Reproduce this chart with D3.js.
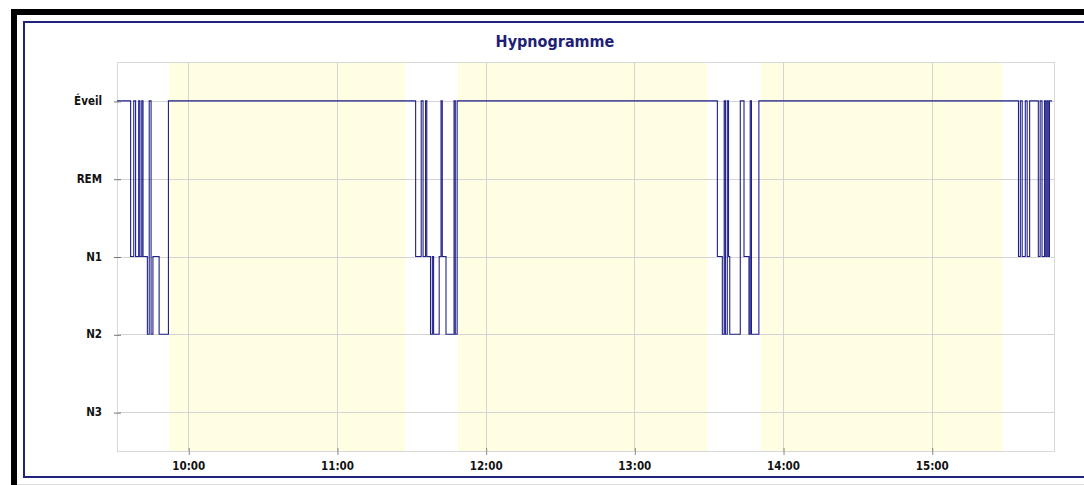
<!DOCTYPE html>
<html>
<head>
<meta charset="utf-8">
<script src="https://cdn.jsdelivr.net/npm/d3@7"></script>
<style>
  html, body { margin: 0; padding: 0; background: #fff; }
  svg { display: block; }
  text { font-family: "DejaVu Sans Condensed", "DejaVu Sans", sans-serif; font-stretch: condensed; font-weight: bold; }
</style>
</head>
<body>
<svg id="chart" width="1084" height="485"></svg>
<script>
// Sleep stages, top to bottom
const stages = ["Éveil", "REM", "N1", "N2", "N3"];

// Stage change points: time of change and stage entered
const changeTimes = [
  "09:31:15", "09:36:45", "09:38:00", "09:38:45", "09:40:00", "09:40:30", "09:41:15", "09:41:45",
  "09:43:30", "09:44:15", "09:45:00", "09:45:45", "09:48:15", "09:52:00",
  "11:31:45", "11:34:00", "11:34:45", "11:35:45", "11:36:15", "11:37:45", "11:38:30", "11:39:00",
  "11:41:15", "11:42:00", "11:42:30", "11:44:00", "11:47:15", "11:47:45", "11:48:30",
  "13:33:30", "13:35:30", "13:36:15", "13:36:45", "13:37:30", "13:38:00", "13:38:30", "13:42:45",
  "13:44:15", "13:46:15", "13:46:45", "13:47:15", "13:50:15",
  "15:35:00", "15:35:45", "15:36:30", "15:37:45", "15:38:30", "15:39:30", "15:43:00", "15:43:45",
  "15:44:30", "15:45:30", "15:46:00", "15:46:30", "15:47:00", "15:47:30", "15:48:30"
];
const changeStages = [
  "Éveil", "N1", "Éveil", "N1", "Éveil", "N1", "Éveil", "N1",
  "N2", "Éveil", "N2", "N1", "N2", "Éveil",
  "N1", "Éveil", "N1", "Éveil", "N1", "N2", "N1", "N2",
  "N1", "Éveil", "N1", "N2", "Éveil", "N2", "Éveil",
  "N1", "N2", "Éveil", "N2", "Éveil", "N1", "N2", "Éveil",
  "N1", "N2", "Éveil", "N2", "Éveil",
  "N1", "Éveil", "N1", "Éveil", "N1", "Éveil", "N1", "Éveil",
  "N1", "Éveil", "N1", "Éveil", "N1", "Éveil", "Éveil"
];

// Shaded periods
const periodStarts = ["09:52:15", "11:48:45", "13:51:00"];
const periodEnds   = ["11:27:30", "13:29:30", "15:28:30"];

// Axis range and hour ticks
const axisStart = "09:31:15";
const axisEnd   = "15:49:20";
const hourTicks = ["10:00", "11:00", "12:00", "13:00", "14:00", "15:00"];

const title = "Hypnogramme";

const parseTime = s => {
  const p = s.split(":").map(Number);
  return new Date(2020, 0, 1, p[0], p[1], p[2] || 0);
};

const svg = d3.select("#chart");

// Outer frames
svg.append("rect").attr("x", 14).attr("y", 12).attr("width", 1200).attr("height", 600)
  .attr("fill", "none").attr("stroke", "#000").attr("stroke-width", 6);
svg.append("rect").attr("x", 24).attr("y", 22).attr("width", 1200).attr("height", 455)
  .attr("fill", "none").attr("stroke", "#22227a").attr("stroke-width", 2);
svg.append("line").attr("x1", 17).attr("x2", 1084).attr("y1", 484.5).attr("y2", 484.5)
  .attr("stroke", "#ddd");

const plot = { left: 117, top: 62, right: 1054, bottom: 451 };

const x = d3.scaleTime()
  .domain([parseTime(axisStart), parseTime(axisEnd)])
  .range([plot.left, plot.right]);

const y = d3.scalePoint()
  .domain(stages)
  .range([plot.top, plot.bottom])
  .padding(0.5);

// Title
svg.append("text")
  .attr("x", 555).attr("y", 47)
  .attr("text-anchor", "middle")
  .attr("fill", "#1f1f78")
  .attr("font-size", 16)
  .text(title);

const g = svg.append("g");

// Shaded periods
g.selectAll("rect.period")
  .data(periodStarts.map((s, i) => [parseTime(s), parseTime(periodEnds[i])]))
  .join("rect")
  .attr("class", "period")
  .attr("x", d => x(d[0]))
  .attr("width", d => x(d[1]) - x(d[0]))
  .attr("y", plot.top)
  .attr("height", plot.bottom - plot.top)
  .attr("fill", "#fffde2");

// Grid lines
const hourDates = hourTicks.map(h => parseTime(h + ":00"));
g.selectAll("line.vgrid")
  .data(hourDates)
  .join("line")
  .attr("x1", d => Math.round(x(d)) + 0.5).attr("x2", d => Math.round(x(d)) + 0.5)
  .attr("y1", plot.top).attr("y2", plot.bottom)
  .attr("stroke", "#d4d4d4");
g.selectAll("line.hgrid")
  .data(stages)
  .join("line")
  .attr("x1", plot.left).attr("x2", plot.right)
  .attr("y1", d => Math.round(y(d)) + 0.5).attr("y2", d => Math.round(y(d)) + 0.5)
  .attr("stroke", "#d4d4d4");

// Plot border
g.append("rect")
  .attr("x", plot.left + 0.5).attr("y", plot.top + 0.5)
  .attr("width", plot.right - plot.left).attr("height", plot.bottom - plot.top)
  .attr("fill", "none").attr("stroke", "#d8d8d8");

// Axes
const xAxis = d3.axisBottom(x)
  .tickValues(hourDates)
  .tickFormat(d3.timeFormat("%H:%M"))
  .tickSizeInner(4).tickSizeOuter(0).tickPadding(7);
const xg = svg.append("g").attr("transform", `translate(0,${plot.bottom - 3})`).call(xAxis);
xg.select(".domain").remove();
xg.selectAll(".tick line").attr("stroke", "#888").attr("y2", 7)
  .attr("transform", "translate(0.5,0)");
xg.selectAll(".tick text").attr("font-size", 11.5).attr("fill", "#111")
  .attr("font-family", null).attr("dy", "0.71em").attr("y", 14);

const yAxis = d3.axisLeft(y).tickSizeInner(7).tickSizeOuter(0).tickPadding(8);
const yg = svg.append("g").attr("transform", `translate(${plot.left + 4},0)`).call(yAxis);
yg.select(".domain").remove();
yg.selectAll(".tick line").attr("stroke", "#777").attr("transform", "translate(0,0.5)");
yg.selectAll(".tick text").attr("font-size", 11.5).attr("fill", "#111").attr("font-family", null)
  .attr("x", -19);

// Hypnogram step line
const points = changeTimes.map((t, i) => ({ t: parseTime(t), s: changeStages[i] }));
const line = d3.line()
  .x(d => x(d.t))
  .y(d => y(d.s))
  .curve(d3.curveStepAfter);

g.append("path")
  .datum(points)
  .attr("d", line)
  .attr("fill", "none")
  .attr("stroke", "#20208a")
  .attr("stroke-width", 1.1);
</script>
</body>
</html>
